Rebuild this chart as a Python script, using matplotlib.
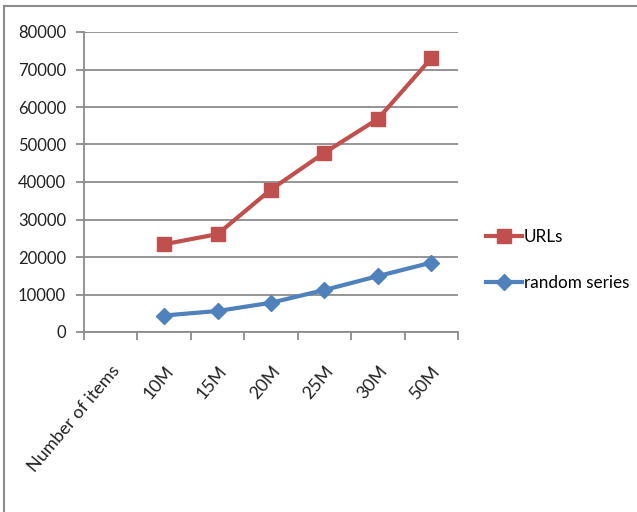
import matplotlib
matplotlib.use("Agg")
import matplotlib.pyplot as plt
from matplotlib.lines import Line2D
import numpy as np

# data
categories = ["Number of items", "10M", "15M", "20M", "25M", "30M", "50M"]
urls = [np.nan, 23400, 26100, 38000, 47800, 56800, 73000]
random_series = [np.nan, 4400, 5600, 7800, 11200, 14900, 18500]
yticks = [0, 10000, 20000, 30000, 40000, 50000, 60000, 70000, 80000]

RED = "#C0504D"
BLUE = "#4F81BD"
GRID = "#8C8C8C"

plt.rcParams["font.family"] = ["Lato", "DejaVu Sans"]

fig = plt.figure(figsize=(6.37, 5.12), dpi=100)
ax = fig.add_axes([84 / 637, 1 - 332 / 512, (458 - 84) / 637, 300 / 512])

x = np.arange(len(categories))
ax.plot(x, urls, color=RED, lw=3, marker="s", ms=10, label="URLs")
ax.plot(x, random_series, color=BLUE, lw=3, marker="D", ms=8, label="random series")

ax.set_xlim(-0.5, len(categories) - 0.5)
ax.set_ylim(0, 80000)
ax.set_yticks(yticks)
ax.set_yticklabels([str(v) for v in yticks], fontsize=12, color="#222222")
ax.yaxis.grid(True, color=GRID, lw=1.3)
ax.set_axisbelow(True)

# category labels at centers, tick marks between categories
ax.set_xticks(x)
ax.set_xticklabels(categories, rotation=50, ha="right", rotation_mode="anchor",
                   fontsize=13, color="#222222")
ax.tick_params(axis="x", which="major", length=0, pad=22)
ax.set_xticks(np.arange(-0.5, len(categories)), minor=True)
ax.tick_params(axis="x", which="minor", length=6, color=GRID, width=1.3)
ax.tick_params(axis="y", length=6, color=GRID, width=1.3, pad=7)

for s in ["top", "right"]:
    ax.spines[s].set_visible(False)
for s in ["left", "bottom"]:
    ax.spines[s].set_color(GRID)
    ax.spines[s].set_linewidth(1.3)

ax.legend(loc="center left", bbox_to_anchor=(1.035, 0.24), frameon=False,
          fontsize=12.3, handlelength=2.1, handletextpad=0.1, labelspacing=1.75)

# outer chart frame (left and top edges visible)
fig.add_artist(Line2D([4 / 637, 4 / 637], [0, 1 - 6 / 512], color=GRID, lw=1.5))
fig.add_artist(Line2D([4 / 637, 1], [1 - 6 / 512, 1 - 6 / 512], color=GRID, lw=1.5))

fig.savefig("out.png", dpi=100)
